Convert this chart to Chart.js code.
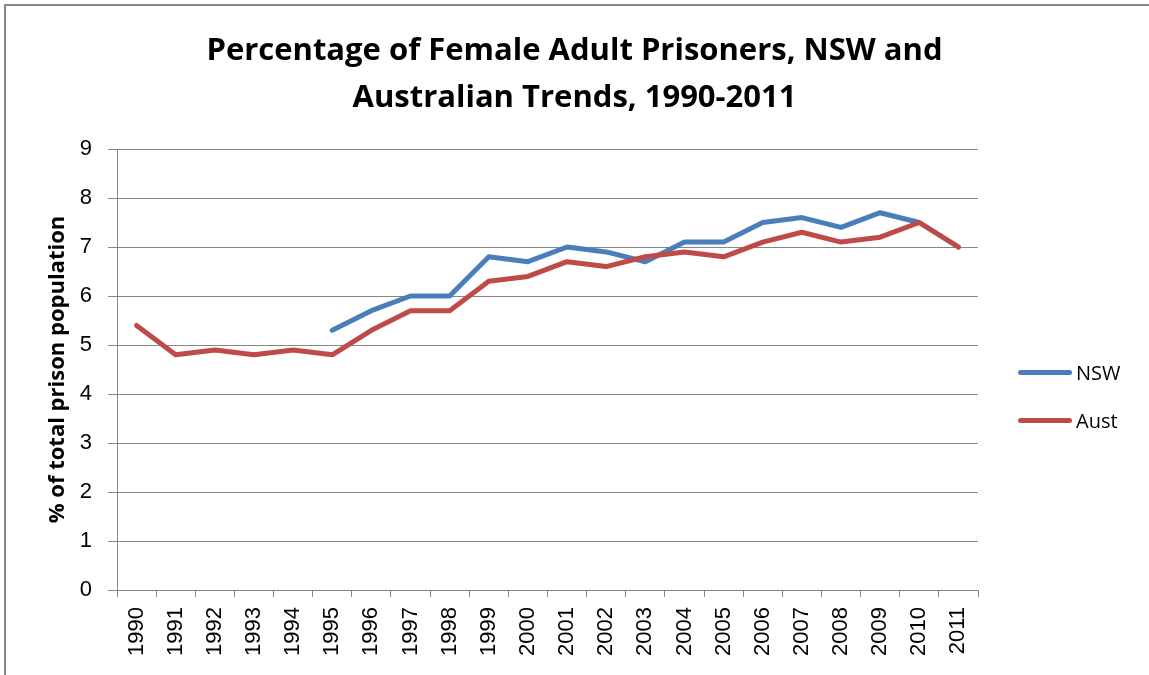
<!DOCTYPE html>
<html>
<head>
<meta charset="utf-8">
<script src="https://cdn.jsdelivr.net/npm/chart.js@4"></script>
<style>
  html, body { margin: 0; padding: 0; background: #fff; }
  #wrap { position: relative; width: 1149px; height: 675px; overflow: hidden; }
  #frame { position: absolute; left: 4px; top: 4px; right: -4px; bottom: -4px;
           border-left: 2px solid #898989; border-top: 2px solid #898989; }
  canvas { position: absolute; left: 0; top: 0; }
  #legend { position: absolute; left: 1018px; top: 348px; font-family: "Open Sans", Lato, sans-serif; font-size: 20px; }
  .item { display: flex; align-items: center; height: 48px; }
  .swatch { width: 54px; height: 5px; border-radius: 3px; margin-right: 4px; }
</style>
</head>
<body>
<div id="wrap">
  <div id="frame"></div>
  <canvas id="chart" width="1149" height="675"></canvas>
  <div id="legend"></div>
</div>
<script>
// Years on the x axis
const years = ['1990', '1991', '1992', '1993', '1994', '1995', '1996', '1997', '1998', '1999', '2000',
               '2001', '2002', '2003', '2004', '2005', '2006', '2007', '2008', '2009', '2010', '2011'];

// % of total prison population (NSW data starts in 1995)
const nswValues = [null, null, null, null, null, 5.3, 5.7, 6.0, 6.0, 6.8, 6.7,
                   7.0, 6.9, 6.7, 7.1, 7.1, 7.5, 7.6, 7.4, 7.7, 7.5, 7.0];
const austValues = [5.4, 4.8, 4.9, 4.8, 4.9, 4.8, 5.3, 5.7, 5.7, 6.3, 6.4,
                    6.7, 6.6, 6.8, 6.9, 6.8, 7.1, 7.3, 7.1, 7.2, 7.5, 7.0];

const yTicks = [0, 1, 2, 3, 4, 5, 6, 7, 8, 9];

const gridGrey = '#868686';

const ctx = document.getElementById('chart').getContext('2d');
const chart = new Chart(ctx, {
    type: 'line',
    data: {
        labels: years,
        datasets: [
            { label: 'NSW', data: nswValues, borderColor: '#4a7ebb', order: 2 },
            { label: 'Aust', data: austValues, borderColor: '#be4b48', order: 1 }
        ]
    },
    options: {
        responsive: false,
        animation: false,
        layout: { padding: 0 },
        elements: {
            line: { borderWidth: 5, tension: 0, fill: false, borderCapStyle: 'round', borderJoinStyle: 'round' },
            point: { radius: 0, hoverRadius: 0 }
        },
        scales: {
            x: {
                offset: true,
                grid: { display: true, drawOnChartArea: false, offset: true, color: gridGrey, tickLength: 7 },
                border: { color: gridGrey, width: 1 },
                ticks: {
                    minRotation: 90, maxRotation: 90, autoSkip: false, padding: 10,
                    color: '#000', font: { family: '"Liberation Sans", Arial, sans-serif', size: 22 }
                },
                afterFit: s => { s.height = 85; }
            },
            y: {
                min: 0,
                max: 9,
                afterBuildTicks: s => { s.ticks = yTicks.map(v => ({ value: v })); },
                grid: { color: gridGrey, tickLength: 9 },
                border: { color: gridGrey, width: 1 },
                ticks: {
                    padding: 16, color: '#000',
                    font: { family: '"Liberation Sans", Arial, sans-serif', size: 22 }
                },
                title: {
                    display: true,
                    text: '% of total prison population',
                    color: '#000',
                    padding: { top: 45, bottom: 0 },
                    font: { family: '"Open Sans", Lato, sans-serif', size: 22, weight: 'bold', lineHeight: 1.2 }
                },
                afterFit: s => { s.width = 117; }
            },
            // empty right-hand scale that keeps room for the legend
            spacer: {
                type: 'linear',
                position: 'right',
                grid: { display: false },
                border: { display: false },
                ticks: { display: false },
                afterFit: s => { s.width = 171; }
            }
        },
        plugins: {
            legend: { display: false },
            tooltip: { enabled: false },
            title: {
                display: true,
                text: ['Percentage of Female Adult Prisoners, NSW and', 'Australian Trends, 1990-2011'],
                color: '#000',
                padding: { top: 28, bottom: 27 },
                font: { family: '"Open Sans", Lato, sans-serif', size: 31, weight: 'bold', lineHeight: 47 / 31 }
            }
        }
    }
});

// Legend built from the datasets
const legendEl = document.getElementById('legend');
chart.data.datasets.forEach(ds => {
    const item = document.createElement('div');
    item.className = 'item';
    item.innerHTML = '<div class="swatch" style="background:' + ds.borderColor + '"></div><span>' + ds.label + '</span>';
    legendEl.appendChild(item);
});
</script>
</body>
</html>
